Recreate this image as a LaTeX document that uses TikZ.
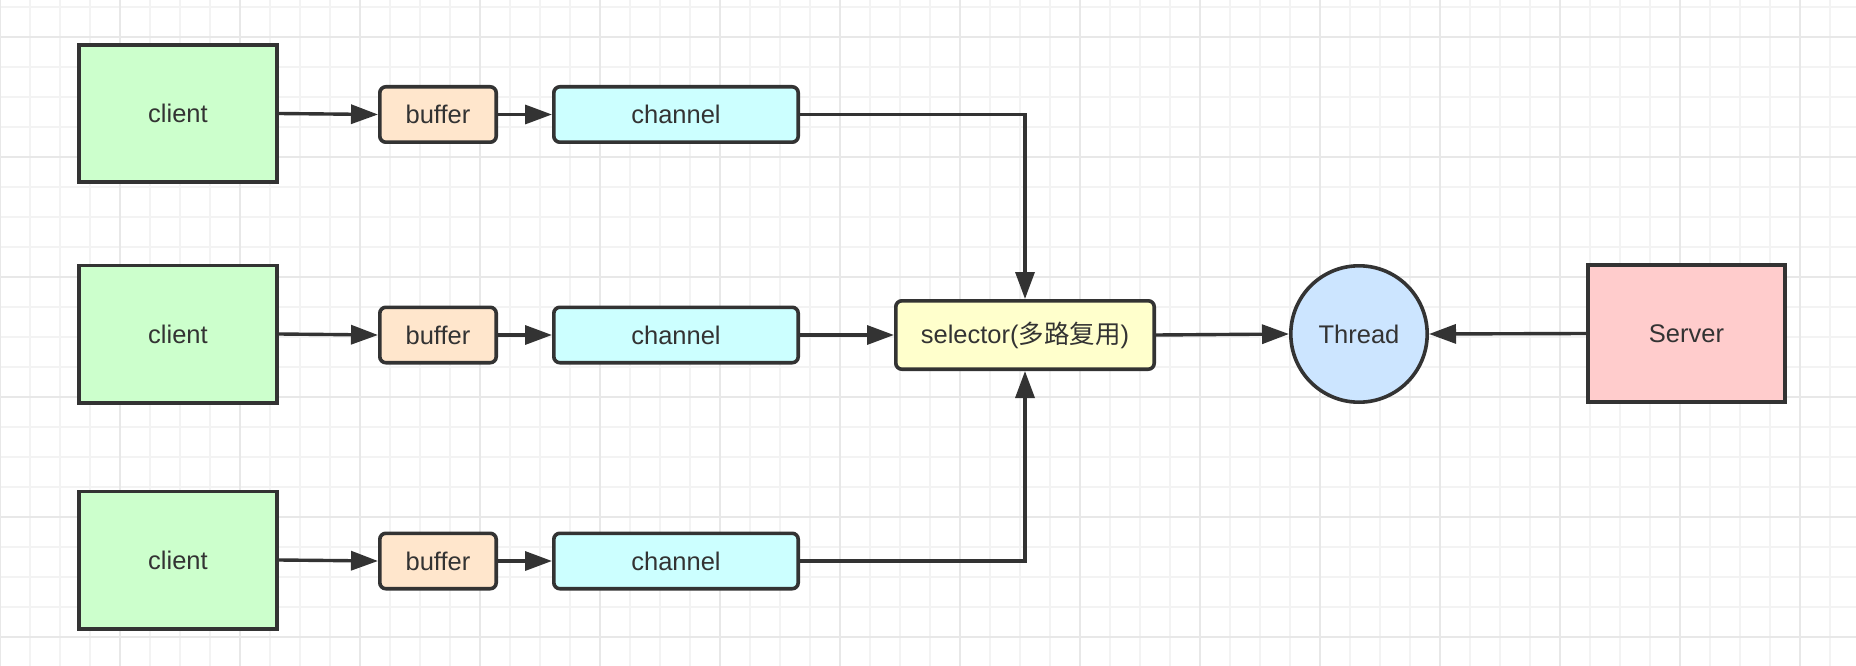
\documentclass[tikz,border=0pt]{standalone}
\usepackage{fontspec}
\setmainfont{Liberation Sans}
\newfontfamily\cjk{Noto Sans CJK SC}
\usetikzlibrary{arrows.meta}

% Colors
\definecolor{linegray}{HTML}{333333}
\definecolor{textgray}{HTML}{333333}
\definecolor{minorgray}{HTML}{F3F3F3}
\definecolor{majorgray}{HTML}{E8E8E8}
\definecolor{clientgreen}{HTML}{CCFFCC}
\definecolor{bufferorange}{HTML}{FFE6CC}
\definecolor{channelcyan}{HTML}{CCFFFF}
\definecolor{selectoryellow}{HTML}{FFFFCC}
\definecolor{threadblue}{HTML}{CCE5FF}
\definecolor{serverred}{HTML}{FFCCCC}

\begin{document}
\begin{tikzpicture}
    [x=1pt, y=-1pt,
    %Option for block arrows
    >={Triangle[length=27pt,width=19pt]}, %
    inner sep=0pt,%
    font=\fontsize{25.5}{30}\selectfont,
    box/.style={draw=linegray, line width=3.6pt, fill=#1, text=textgray},
    clientbox/.style={box=clientgreen, minimum width=198.4pt, minimum height=137.4pt},
    bufferbox/.style={box=bufferorange, rounded corners=6pt, minimum width=116.4pt, minimum height=55.4pt},
    channelbox/.style={box=channelcyan, rounded corners=6pt, minimum width=244.4pt, minimum height=55.4pt},
    selectorbox/.style={box=selectoryellow, rounded corners=6pt, minimum width=258.4pt, minimum height=68.4pt},
    threadbox/.style={box=threadblue, circle, minimum size=136.4pt},
    serverbox/.style={box=serverred, minimum width=197.4pt, minimum height=137.4pt},
    link/.style={draw=linegray, line width=3.4pt, ->},
    minorgrid/.style={draw=minorgray, line width=1.5pt},
    majorgrid/.style={draw=majorgray, line width=2pt}]

    \useasboundingbox[fill=white] (0,0) rectangle (1856,666);

    % Grid
    \foreach \x in {0,30,...,1830}
        \draw[minorgrid] (\x,0) -- (\x,666);
    \foreach \y in {7,37,...,667}
        \draw[minorgrid] (0,\y) -- (1856,\y);
    \foreach \x in {0,120,...,1800}
        \draw[majorgrid] (\x,0) -- (\x,666);
    \foreach \y in {37,157,...,637}
        \draw[majorgrid] (0,\y) -- (1856,\y);

    % Clients, buffers and channels
    \foreach \n/\y in {1/113.5, 2/334, 3/560} {
        \node[clientbox] (client\n) at (178,\y) {client};
        \node[bufferbox] (buffer\n) at (438,\y+1) {buffer};
        \node[channelbox] (channel\n) at (676,\y+1) {channel};
        \draw[link] (client\n.east) -- (buffer\n.west);
        \draw[link] (buffer\n.east) -- (channel\n.west);
    }

    % Selector, thread and server
    \node[selectorbox] (selector) at (1025,335) {selector({\cjk 多路复用})};
    \node[threadbox] (thread) at (1359,334) {Thread};
    \node[serverbox] (server) at (1686.5,333.5) {Server};

    \draw[link] (channel1.east) -| (selector.north);
    \draw[link] (channel2.east) -- (selector.west);
    \draw[link] (channel3.east) -| (selector.south);
    \draw[link] (selector.east) -- (thread.west);
    \draw[link] (server.west) -- (thread.east);

\end{tikzpicture}
\end{document}
